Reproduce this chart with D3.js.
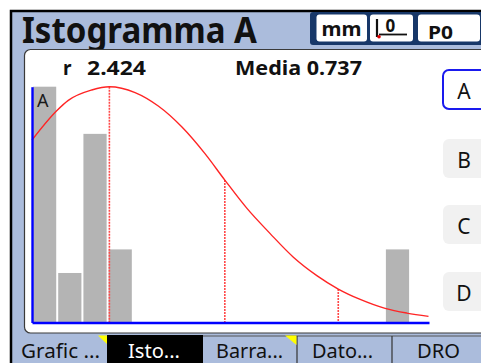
<!DOCTYPE html>
<html>
<head>
<meta charset="utf-8">
<script src="https://cdn.jsdelivr.net/npm/d3@7"></script>
<style>
  html, body { margin: 0; padding: 0; background: #fff; }
  svg { display: block; font-family: "Noto Sans", "Open Sans", sans-serif; }
</style>
</head>
<body>
<svg id="chart" width="481" height="363"></svg>
<script>
// ---- data ----
const binIndex = [0, 1, 2, 3, 4, 5, 6, 7, 8, 9, 10, 11, 12, 13, 14];
const binCounts = [10, 2.1, 8, 3.1, 0, 0, 0, 0, 0, 0, 0, 0, 0, 0, 3.1];
const curveX = [0, 0.98, 1.44, 2.37, 3.07, 4.09, 5.01, 5.94, 6.87, 7.65, 8.52, 9.44, 10.37, 11.30, 12.15, 13.02, 14.01, 14.87, 15.73];
const curveY = [7.74, 8.98, 9.42, 9.86, 10.0, 9.75, 9.18, 8.30, 7.15, 6.04, 4.85, 3.78, 2.77, 1.99, 1.42, 0.98, 0.60, 0.40, 0.26];
const markerX = [3.07, 7.65, 12.15];
const markerY = [10.0, 6.04, 1.42];
const title = "Istogramma A";
const rangeLabel = "r";
const rangeValue = "2.424";
const meanLabel = "Media 0.737";
const unitLabel = "mm";
const presetLabel = "P0";
const channelButtons = ["A", "B", "C", "D"];
const tabLabels = ["Grafic ...", "Isto...", "Barra...", "Dato...", "DRO"];

const svg = d3.select("#chart");
const lightBlue = "#abbcdc";

// ---- frame ----
svg.append("rect").attr("x", 0).attr("y", 0).attr("width", 481).attr("height", 363).attr("fill", "#fff");
svg.append("rect").attr("x", 11).attr("y", 11).attr("width", 480).attr("height", 360)
  .attr("fill", lightBlue).attr("stroke", "#000").attr("stroke-width", 2.5);

// header navy block
svg.append("rect").attr("x", 310).attr("y", 12).attr("width", 175).attr("height", 33)
  .attr("rx", 3).attr("fill", "#173768");
const boxes = [[316.5, 50.5], [370, 43], [418, 62]];
boxes.forEach(b => {
  svg.append("rect").attr("x", b[0]).attr("y", 14.5).attr("width", b[1]).attr("height", 27)
    .attr("rx", 3).attr("fill", "#fff");
});
svg.append("text").attr("x", 321.5).attr("y", 36).attr("font-size", 20).attr("font-weight", "bold")
  .attr("fill", "#111").attr("textLength", 40).attr("lengthAdjust", "spacingAndGlyphs").text(unitLabel);
svg.append("text").attr("x", 428).attr("y", 38.5).attr("font-size", 18).attr("font-weight", "bold")
  .attr("fill", "#111").attr("textLength", 25).attr("lengthAdjust", "spacingAndGlyphs").text(presetLabel);
// zero icon
svg.append("line").attr("x1", 377).attr("x2", 377).attr("y1", 19).attr("y2", 37).attr("stroke", "#111").attr("stroke-width", 2.2);
svg.append("line").attr("x1", 379).attr("x2", 407).attr("y1", 34.5).attr("y2", 34.5).attr("stroke", "#111").attr("stroke-width", 1.8);
svg.append("text").attr("x", 385.5).attr("y", 31.5).attr("font-size", 17).attr("font-weight", "bold")
  .attr("fill", "#111").text("0");
svg.append("circle").attr("cx", 379).attr("cy", 36.7).attr("r", 1.8).attr("fill", "#e00000");

// title
svg.append("text").attr("x", 22).attr("y", 42.5).attr("font-size", 36).attr("font-weight", "bold")
  .attr("fill", "#111").attr("textLength", 235).attr("lengthAdjust", "spacingAndGlyphs").text(title);

// white panel
svg.append("rect").attr("x", 24.5).attr("y", 49.5).attr("width", 480).attr("height", 283.5)
  .attr("rx", 6).attr("fill", "#fff").attr("stroke", "#3a3a3a").attr("stroke-width", 1.2);

// stats line
svg.append("text").attr("x", 63).attr("y", 75).attr("font-size", 19).attr("font-weight", "bold")
  .attr("fill", "#111").text(rangeLabel);
svg.append("text").attr("x", 87).attr("y", 75).attr("font-size", 19).attr("font-weight", "bold")
  .attr("fill", "#111").attr("textLength", 59).attr("lengthAdjust", "spacingAndGlyphs").text(rangeValue);
svg.append("text").attr("x", 235).attr("y", 75).attr("font-size", 19).attr("font-weight", "bold")
  .attr("fill", "#111").attr("textLength", 127).attr("lengthAdjust", "spacingAndGlyphs").text(meanLabel);

// ---- chart ----
const x = d3.scaleLinear().domain([0, 15.75]).range([32, 429]);
const y = d3.scaleLinear().domain([0, 10]).range([322.5, 86.7]);

const g = svg.append("g");
g.selectAll("rect.bar").data(binIndex).join("rect").attr("class", "bar")
  .attr("x", i => x(i) + 1)
  .attr("width", i => x(i + 1) - x(i) - 2)
  .attr("y", i => y(binCounts[i]))
  .attr("height", i => y(0) - y(binCounts[i]))
  .attr("fill", "#b4b4b4");

g.append("text").attr("x", 37).attr("y", 106.5).attr("font-size", 18).attr("fill", "#1a1a1a").text("A");

// marker dotted lines
g.selectAll("line.mk").data(markerX).join("line").attr("class", "mk")
  .attr("x1", d => x(d)).attr("x2", d => x(d))
  .attr("y1", (d, i) => y(markerY[i])).attr("y2", y(0))
  .attr("stroke", "#ff4848").attr("stroke-width", 1.6).attr("stroke-dasharray", "2,1");

// curve
const pts = curveX.map((d, i) => [d, curveY[i]]);
g.append("path").datum(pts)
  .attr("d", d3.line().x(d => x(d[0])).y(d => y(d[1])).curve(d3.curveMonotoneX))
  .attr("fill", "none").attr("stroke", "#ff2424").attr("stroke-width", 1.4);

// axes
const xAxis = g.append("g").attr("transform", `translate(0,${y(0)})`)
  .call(d3.axisBottom(x).ticks(0).tickSizeOuter(0));
xAxis.select(".domain").attr("stroke", "#0000ff").attr("stroke-width", 2.4);
xAxis.selectAll(".tick").remove();
const yAxis = g.append("g").attr("transform", `translate(${x(0)},0)`)
  .call(d3.axisLeft(y).ticks(0).tickSizeOuter(0));
yAxis.select(".domain").attr("stroke", "#0000ff").attr("stroke-width", 2.4);
yAxis.selectAll(".tick").remove();

// channel buttons
const btnY = [70, 139, 205, 272];
channelButtons.forEach((c, i) => {
  svg.append("rect").attr("x", 443).attr("y", btnY[i]).attr("width", 50).attr("height", 39)
    .attr("rx", 6)
    .attr("fill", i === 0 ? "#fff" : "#f1f1f1")
    .attr("stroke", i === 0 ? "#1a1aee" : "none")
    .attr("stroke-width", 2);
  svg.append("text").attr("x", 464).attr("y", btnY[i] + 28.5).attr("text-anchor", "middle")
    .attr("font-size", 21).attr("fill", "#111").text(c);
});

// ---- tabs ----
svg.append("rect").attr("x", 107).attr("y", 335).attr("width", 96).attr("height", 30).attr("fill", "#000");
svg.append("line").attr("x1", 203).attr("x2", 481).attr("y1", 336).attr("y2", 336).attr("stroke", "#555").attr("stroke-width", 1);
[297, 392].forEach(sx => {
  svg.append("line").attr("x1", sx).attr("x2", sx).attr("y1", 336).attr("y2", 363).attr("stroke", "#333").attr("stroke-width", 1.2);
});
svg.append("path").attr("d", "M98,335.5 L107,335.5 L107,344 Z").attr("fill", "#ffff00");
svg.append("path").attr("d", "M285,335.5 L296.5,335.5 L296.5,345 Z").attr("fill", "#ffff00");
const tabX = [21, 128, 216, 312, 417];
const tabW = [79, 52, 67, 61, 43];
tabLabels.forEach((t, i) => {
  svg.append("text").attr("x", tabX[i]).attr("y", 357.5).attr("font-size", 20)
    .attr("fill", i === 1 ? "#fff" : "#111")
    .attr("textLength", tabW[i]).attr("lengthAdjust", "spacingAndGlyphs").text(t);
});
</script>
</body>
</html>
